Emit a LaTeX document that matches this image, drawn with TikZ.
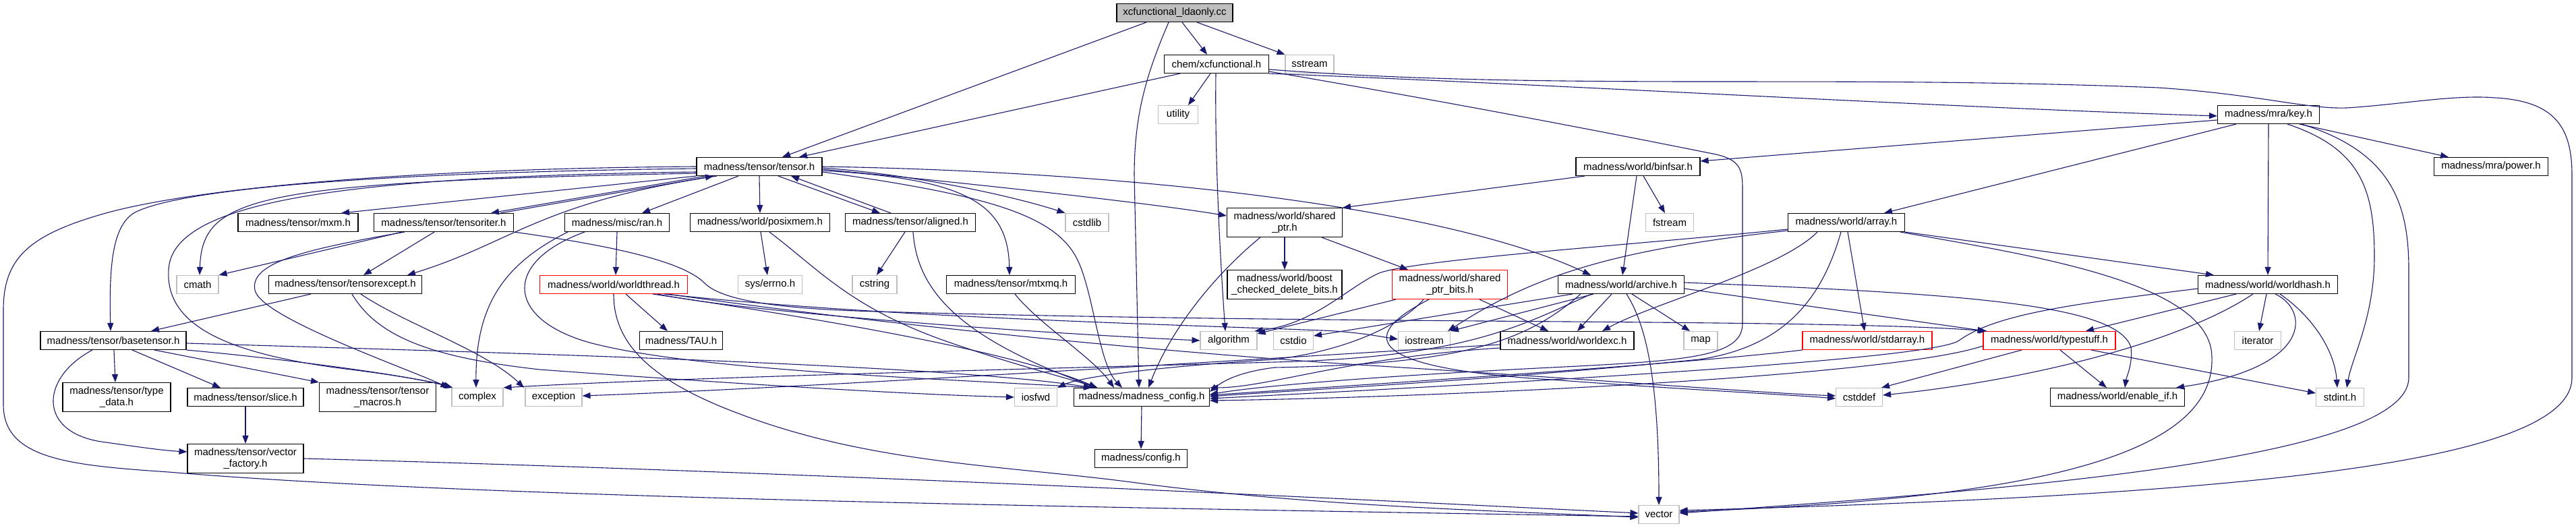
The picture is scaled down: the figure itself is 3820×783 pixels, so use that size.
\documentclass[tikz,border=0pt]{standalone}
\usepackage{fontspec}
\setmainfont{Liberation Sans}
\usetikzlibrary{arrows.meta}
\definecolor{edgec}{HTML}{191970}
\definecolor{extc}{HTML}{BFBFBF}
\definecolor{rootc}{HTML}{BFBFBF}
\begin{document}
\begin{tikzpicture}[x=1pt,y=-1pt,
  nbox/.style={draw=black, line width=1.1pt, fill=white, inner sep=1pt, minimum height=27pt, font=\fontsize{15}{17.5}\selectfont, align=center, text=black},
  ext/.style={nbox, draw=extc},
  redbox/.style={nbox, draw=red},
  root/.style={nbox, fill=rootc},
  tall/.style={minimum height=43pt},
  ed/.style={draw=edgec, line width=1.1pt, -{Triangle[length=12pt,width=9pt]}}]
\fill[white] (0,0) rectangle (3820,783);
\useasboundingbox (0,0) rectangle (3820,783);
% nodes
\node[root, minimum width=172pt] (L) at (1742,19) {xcfunctional\_ldaonly.cc};
\node[nbox, minimum width=155pt] (C) at (1804,95) {chem/xcfunctional.h};
\node[ext, minimum width=72pt] (sstream) at (1942,95) {sstream};
\node[ext, minimum width=59pt] (utility) at (1747,170) {utility};
\node[nbox, minimum width=151pt] (K) at (3364,170) {madness/mra/key.h};
\node[nbox, minimum width=186pt] (T) at (1126,247) {madness/tensor/tensor.h};
\node[nbox, minimum width=184pt] (B) at (2429,247) {madness/world/binfsar.h};
\node[nbox, minimum width=169pt] (PW) at (3694,247) {madness/mra/power.h};
\node[nbox, minimum width=178pt] (mxm) at (442,330) {madness/tensor/mxm.h};
\node[nbox, minimum width=207pt] (TI) at (658,330) {madness/tensor/tensoriter.h};
\node[nbox, minimum width=155pt] (R) at (915,330) {madness/misc/ran.h};
\node[nbox, minimum width=207pt] (P) at (1127,330) {madness/world/posixmem.h};
\node[nbox, minimum width=193pt] (A) at (1350,330) {madness/tensor/aligned.h};
\node[ext, minimum width=64pt] (cstdlib) at (1612,330) {cstdlib};
\node[nbox, tall, minimum width=171pt] (SP) at (1905,330) {madness/world/shared\\\_ptr.h};
\node[ext, minimum width=71pt] (fstream) at (2476,330) {fstream};
\node[nbox, minimum width=173pt] (AR) at (2738,330) {madness/world/array.h};
\node[ext, minimum width=62pt] (cmath) at (293,422) {cmath};
\node[nbox, minimum width=227pt] (TE) at (512,422) {madness/tensor/tensorexcept.h};
\node[redbox, minimum width=219pt] (WT) at (910,422) {madness/world/worldthread.h};
\node[ext, minimum width=95pt] (errno) at (1142,422) {sys/errno.h};
\node[ext, minimum width=66pt] (cstring) at (1297,422) {cstring};
\node[nbox, minimum width=191pt] (MQ) at (1499,422) {madness/tensor/mtxmq.h};
\node[nbox, tall, minimum width=170pt] (BC) at (1905,422) {madness/world/boost\\\_checked\_delete\_bits.h};
\node[redbox, tall, minimum width=171pt] (SPB) at (2150,422) {madness/world/shared\\\_ptr\_bits.h};
\node[nbox, minimum width=187pt] (AC) at (2404,422) {madness/world/archive.h};
\node[nbox, minimum width=207pt] (WH) at (3363,422) {madness/world/worldhash.h};
\node[nbox, minimum width=216pt] (BT) at (168,505) {madness/tensor/basetensor.h};
\node[nbox, minimum width=123pt] (TAU) at (1010,505) {madness/TAU.h};
\node[ext, minimum width=84pt] (algorithm) at (1822,505) {algorithm};
\node[ext, minimum width=59pt] (cstdio) at (1918,505) {cstdio};
\node[ext, minimum width=77pt] (iostream) at (2112,505) {iostream};
\node[nbox, minimum width=198pt] (WE) at (2324,505) {madness/world/worldexc.h};
\node[ext, minimum width=50pt] (map) at (2522,505) {map};
\node[redbox, minimum width=192pt] (SA) at (2769,505) {madness/world/stdarray.h};
\node[redbox, minimum width=196pt] (TS) at (3039,505) {madness/world/typestuff.h};
\node[ext, minimum width=69pt] (iterator) at (3348,505) {iterator};
\node[nbox, tall, minimum width=160pt] (TD) at (173,589) {madness/tensor/type\\\_data.h};
\node[nbox, minimum width=172pt] (SL) at (364,589) {madness/tensor/slice.h};
\node[nbox, tall, minimum width=173pt] (TM) at (560,589) {madness/tensor/tensor\\\_macros.h};
\node[ext, minimum width=76pt] (complex) at (708,589) {complex};
\node[ext, minimum width=84pt] (exception) at (821,589) {exception};
\node[ext, minimum width=63pt] (iosfwd) at (1536,589) {iosfwd};
\node[nbox, minimum width=201pt] (MC) at (1693,589) {madness/madness\_config.h};
\node[ext, minimum width=69pt] (cstddef) at (2757,589) {cstddef};
\node[nbox, minimum width=199pt] (EI) at (3140,589) {madness/world/enable\_if.h};
\node[ext, minimum width=71pt] (stdint) at (3470,589) {stdint.h};
\node[nbox, minimum width=137pt] (config) at (1692,680) {madness/config.h};
\node[nbox, tall, minimum width=172pt] (VF) at (364,680) {madness/tensor/vector\\\_factory.h};
\node[ext, minimum width=60pt] (vector) at (2460,763) {vector};
% root
\draw[ed] ([xshift=-42pt]L.south) -- ([xshift=34pt]T.north);
\draw[ed] ([xshift=-9pt]L.south) .. controls (1700,110) and (1682,170) .. (1682,260) -- ([xshift=-4pt]MC.north);
\draw[ed] ([xshift=11pt]L.south) -- ([xshift=-14pt]C.north);
\draw[ed] ([xshift=33pt]L.south) -- (sstream.north west);
% chem
\draw[ed] ([xshift=-54pt]C.south) -- ([xshift=59pt]T.north);
\draw[ed] ([xshift=-9pt]C.south) -- ([xshift=15pt]utility.north);
\draw[ed] ([xshift=-1pt]C.south) .. controls (1801,250) and (1812,420) .. ([xshift=-5pt]algorithm.north);
\draw[ed] (C.south east) .. controls (2300,125) and (2900,160) .. ([yshift=-2pt]K.west);
\draw[ed] ([yshift=-8pt]C.east) .. controls (2300,135) and (2700,110) .. (3200,130) .. controls (3350,140) and (3420,162) .. (3480,160) .. controls (3560,155) and (3640,140) .. (3700,145) .. controls (3790,150) and (3814,190) .. (3814,260) -- (3814,560) .. controls (3814,690) and (3300,735) .. ([yshift=6pt]vector.east);
\draw[ed] ([yshift=-11pt]C.east) .. controls (2200,160) and (2450,210) .. (2540,228) .. controls (2580,236) and (2584,250) .. (2584,280) -- (2584,480) .. controls (2584,530) and (2500,535) .. (2300,545) .. controls (2000,560) and (1850,575) .. ([yshift=4pt]MC.east);
% key
\draw[ed] ([yshift=-8pt]K.west) -- ([yshift=8pt]B.east);
\draw[ed] ([xshift=-48pt]K.south) -- ([xshift=56pt]AR.north);
\draw[ed] ([xshift=46pt]K.south) -- ([xshift=-63pt]PW.north);
\draw[ed] (K.south) -- (WH.north);
\draw[ed] ([xshift=28pt]K.south) .. controls (3500,220) and (3521,280) .. (3521,380) .. controls (3521,470) and (3488,530) .. ([xshift=10pt]stdint.north);
\draw[ed] ([xshift=49pt]K.south) .. controls (3545,225) and (3572,300) .. (3572,400) -- (3572,560) .. controls (3572,680) and (3000,725) .. ([yshift=2pt]vector.east);
% binfsar
\draw[ed] ([xshift=-79pt]B.south) -- (SP.north east);
\draw[ed] ([xshift=-2pt]B.south) -- ([xshift=2pt]AC.north);
\draw[ed] ([xshift=8pt]B.south) -- ([xshift=-7pt]fstream.north);
% array
\draw[ed] (AR.south east) -- ([xshift=-80pt]WH.north);
\draw[ed] ([xshift=2pt]AR.south) -- ([xshift=-4pt]SA.north);
\draw[ed] ([xshift=80pt]AR.south) .. controls (3020,380) and (3280,420) .. (3280,530) .. controls (3285,680) and (3000,740) .. ([yshift=4pt]vector.east);
\draw[ed] ([yshift=-10pt]AR.west) .. controls (2400,365) and (2100,385) .. (2045,405) .. controls (2000,425) and (1950,480) .. ([xshift=-4pt]algorithm.north east);
\draw[ed] ([yshift=-12pt]AR.west) .. controls (2400,370) and (2280,405) .. ([xshift=-4pt]iostream.north east);
\draw[ed] ([xshift=-8pt]AR.south) .. controls (2700,450) and (2640,515) .. (2520,533) .. controls (2200,565) and (1900,580) .. ([yshift=1pt]MC.east);
\draw[ed] ([xshift=-43pt]AR.south) .. controls (2640,400) and (2450,450) .. ([xshift=52pt]WE.north);
% worldhash
\draw[ed] ([yshift=-6pt]WH.west) .. controls (3080,450) and (2960,465) .. (2905,505) .. controls (2870,530) and (2400,560) .. ([yshift=-2pt]MC.east);
\draw[ed] ([xshift=-47pt]WH.south) -- ([xshift=54pt]TS.north);
\draw[ed] ([xshift=-22pt]WH.south) .. controls (3230,510) and (3000,565) .. ([yshift=3pt]cstddef.east);
\draw[ed] ([xshift=-2pt]WH.south) -- ([xshift=2pt]iterator.north);
\draw[ed] ([xshift=11pt]WH.south) .. controls (3425,460) and (3430,545) .. ([xshift=87pt]EI.north);
\draw[ed] ([xshift=18pt]WH.south) .. controls (3430,470) and (3462,520) .. ([xshift=-4pt]stdint.north);
% typestuff
\draw[ed] ([yshift=-8pt]TS.west) .. controls (2800,560) and (2100,590) .. ([yshift=-5pt]MC.east);
\draw[ed] ([xshift=-41pt]TS.south) -- ([xshift=-2pt]cstddef.north east);
\draw[ed] ([xshift=16pt]TS.south) -- ([xshift=-16pt]EI.north);
\draw[ed] ([xshift=62pt]TS.south) -- ([yshift=6pt]stdint.west);
% stdarray
\draw[ed] (SA.south west) .. controls (2500,540) and (2000,572) .. ([yshift=3pt]MC.east);
% archive
\draw[ed] ([xshift=-72pt]AC.south) -- ([yshift=7pt]cstdio.east);
\draw[ed] ([xshift=-41pt]AC.south) -- (iostream.north east);
\draw[ed] ([xshift=-44pt]AC.south) .. controls (2260,480) and (2180,530) .. (1890,537) .. controls (1500,548) and (1000,560) .. (complex.north east);
\draw[ed] ([xshift=-14pt]AC.south) -- ([xshift=15pt]WE.north);
\draw[ed] ([xshift=8pt]AC.south) .. controls (2440,480) and (2460,560) .. (vector.north);
\draw[ed] ([xshift=16pt]AC.south) -- ([xshift=-16pt]map.north);
\draw[ed] ([yshift=3pt]AC.east) .. controls (2900,435) and (3140,450) .. (3160,515) .. controls (3163,540) and (3153,560) .. ([xshift=11pt]EI.north);
\draw[ed] ([yshift=-6pt]AC.east) -- ([xshift=4pt]TS.north west);
\draw[ed] ([xshift=-60pt]AC.south) .. controls (2260,510) and (2160,540) .. (1890,545) .. controls (1850,550) and (1820,560) .. ([yshift=8pt]MC.east);
% worldexc
\draw[ed] ([yshift=-6pt]WE.west) .. controls (1900,530) and (1200,575) .. ([yshift=2pt]exception.east);
\draw[ed] ([yshift=-11pt]WE.west) .. controls (2000,530) and (1880,575) .. (MC.north east);
% shared_ptr_bits
\draw[ed] ([xshift=44pt]SPB.south) -- ([xshift=-28pt]WE.north);
\draw[ed] ([xshift=-80pt]SPB.south) -- ([yshift=-4pt]algorithm.north east);
\draw[ed] ([xshift=-39pt]SPB.south) .. controls (2080,480) and (2000,520) .. (1890,533) .. controls (1700,545) and (1600,560) .. (iosfwd.north east);
\draw[ed] ([xshift=-31pt]SPB.south) .. controls (2020,495) and (2010,545) .. (2300,563) .. controls (2500,578) and (2650,585) .. ([yshift=-2pt]cstddef.west);
% shared_ptr
\draw[ed] (SP.south) -- (BC.north);
\draw[ed] ([xshift=55pt]SP.south) -- ([xshift=-62pt]SPB.north);
\draw[ed] ([xshift=-36pt]SP.south) .. controls (1810,400) and (1740,480) .. ([xshift=10pt]MC.north);
% tensor
\draw[ed] (T.west) .. controls (600,250) and (280,280) .. (150,318) .. controls (40,350) and (5,385) .. (5,460) -- (5,600) .. controls (5,680) and (100,690) .. (250,700) .. controls (700,738) and (1600,752) .. ([yshift=-3pt]vector.west);
\draw[ed] ([yshift=-3pt]T.west) .. controls (620,255) and (280,275) .. (200,315) .. controls (165,335) and (162,400) .. ([xshift=-4pt]BT.north);
\draw[ed] ([yshift=-8pt]T.west) .. controls (500,262) and (255,300) .. (250,400) .. controls (245,480) and (330,525) .. (520,548) .. controls (600,558) and (650,568) .. (complex.north west);
\draw[ed] ([yshift=-10pt]T.west) .. controls (380,270) and (300,290) .. ([xshift=3pt]cmath.north);
\draw[ed] (T.south west) -- ([xshift=64pt]mxm.north);
\draw[ed] ([xshift=-63pt]T.south) .. controls (800,300) and (760,360) .. ([xshift=92pt]TE.north);
\draw[ed] ([xshift=-80pt]T.south) -- ([xshift=70pt]TI.north);
\draw[ed] ([xshift=84pt]TI.north) -- ([xshift=-68pt]T.south);
\draw[ed] ([xshift=-31pt]T.south) -- ([xshift=37pt]R.north);
\draw[ed] (T.south) -- (P.north);
\draw[ed] ([xshift=28pt]T.south) -- ([xshift=-45pt]A.north);
\draw[ed] ([xshift=-29pt]A.north) -- ([xshift=47pt]T.south);
\draw[ed] ([yshift=-2pt]T.east) .. controls (1350,258) and (1500,290) .. (cstdlib.north west);
\draw[ed] ([yshift=-4pt]T.east) .. controls (1400,268) and (1700,300) .. ([yshift=10pt]SP.west);
\draw[ed] ([yshift=-6pt]T.east) .. controls (1430,265) and (1495,300) .. ([xshift=-2pt]MQ.north);
\draw[ed] ([yshift=-8pt]T.east) .. controls (1470,290) and (1570,320) .. (1600,390) .. controls (1622,440) and (1630,540) .. ([xshift=-29pt]MC.north);
\draw[ed] (T.east) .. controls (1700,255) and (2150,310) .. ([xshift=-45pt]AC.north);
% tensoriter
\draw[ed] ([xshift=-62pt]TI.south) -- (cmath.north east);
\draw[ed] ([xshift=-58pt]TI.south) .. controls (450,370) and (370,390) .. (378,430) .. controls (385,470) and (600,545) .. ([xshift=-4pt]complex.north west);
\draw[ed] ([xshift=-14pt]TI.south) -- ([xshift=27pt]TE.north);
\draw[ed] (TI.south east) .. controls (950,370) and (1020,395) .. (1045,420) .. controls (1070,445) and (1150,458) .. (1300,462) .. controls (2000,482) and (2700,472) .. ([xshift=6pt]TS.north west);
% tensorexcept
\draw[ed] ([xshift=-51pt]TE.south) -- ([xshift=56pt]BT.north);
\draw[ed] ([xshift=23pt]TE.south) .. controls (600,480) and (720,520) .. ([xshift=-44pt]exception.north);
\draw[ed] ([xshift=10pt]TE.south) .. controls (560,500) and (640,530) .. (800,548) .. controls (1100,570) and (1350,585) .. (iosfwd.west);
% basetensor
\draw[ed] ([xshift=1pt]BT.south) -- ([xshift=-2pt]TD.north);
\draw[ed] ([xshift=28pt]BT.south) -- ([xshift=-37pt]SL.north);
\draw[ed] ([xshift=61pt]BT.south) -- (TM.north west);
\draw[ed] ([xshift=-31pt]BT.south) .. controls (60,560) and (55,640) .. (150,655) .. controls (200,662) and (240,668) .. ([yshift=10pt]VF.west);
\draw[ed] (BT.south east) .. controls (400,530) and (600,555) .. ([xshift=2pt]complex.north west);
\draw[ed] ([yshift=-4pt]BT.east) .. controls (700,522) and (1400,540) .. ([xshift=-74pt]MC.north);
% slice, vector_factory
\draw[ed] (SL.south) -- (VF.north);
\draw[ed] (VF.east) .. controls (1200,700) and (2000,740) .. ([yshift=2pt]vector.west);
% ran
\draw[ed] (R.south) -- ([xshift=3pt]WT.north);
\draw[ed] ([xshift=-73pt]R.south) .. controls (750,390) and (705,450) .. ([xshift=-2pt]complex.north);
\draw[ed] ([xshift=-48pt]R.south) .. controls (740,390) and (750,480) .. (890,512) .. controls (1050,550) and (1400,562) .. ([xshift=-74pt]MC.north);
% worldthread
\draw[ed] ([xshift=18pt]WT.south) -- ([xshift=-20pt]TAU.north);
\draw[ed] (WT.south) .. controls (910,500) and (950,560) .. (1100,615) .. controls (1300,690) and (1500,690) .. (1700,718) .. controls (1950,750) and (2200,757) .. ([yshift=-4pt]vector.west);
\draw[ed] ([xshift=65pt]WT.south) .. controls (1100,462) and (1500,492) .. (algorithm.west);
\draw[ed] ([xshift=75pt]WT.south) .. controls (1300,470) and (1700,480) .. (1960,490) .. controls (2010,492) and (2040,498) .. ([yshift=2pt]iostream.west);
\draw[ed] ([xshift=80pt]WT.south) .. controls (1300,480) and (1700,520) .. (2000,540) .. controls (2400,565) and (2600,582) .. ([yshift=2pt]cstddef.west);
\draw[ed] ([xshift=58pt]WT.south) .. controls (1200,470) and (1500,520) .. ([xshift=-66pt]MC.north);
% posixmem
\draw[ed] ([xshift=1pt]P.south) -- ([xshift=-4pt]errno.north);
\draw[ed] ([xshift=14pt]P.south) .. controls (1215,400) and (1260,455) .. (1400,505) .. controls (1500,540) and (1580,560) .. ([xshift=-66pt]MC.north);
% aligned
\draw[ed] ([xshift=-8pt]A.south) -- ([xshift=3pt]cstring.north);
\draw[ed] ([xshift=4pt]A.south) .. controls (1360,430) and (1420,500) .. ([xshift=-66pt]MC.north);
% mtxmq
\draw[ed] ([xshift=6pt]MQ.south) .. controls (1540,480) and (1620,530) .. ([xshift=-41pt]MC.north);
% madness_config
\draw[ed] (MC.south) -- (config.north);
\end{tikzpicture}
\end{document}
